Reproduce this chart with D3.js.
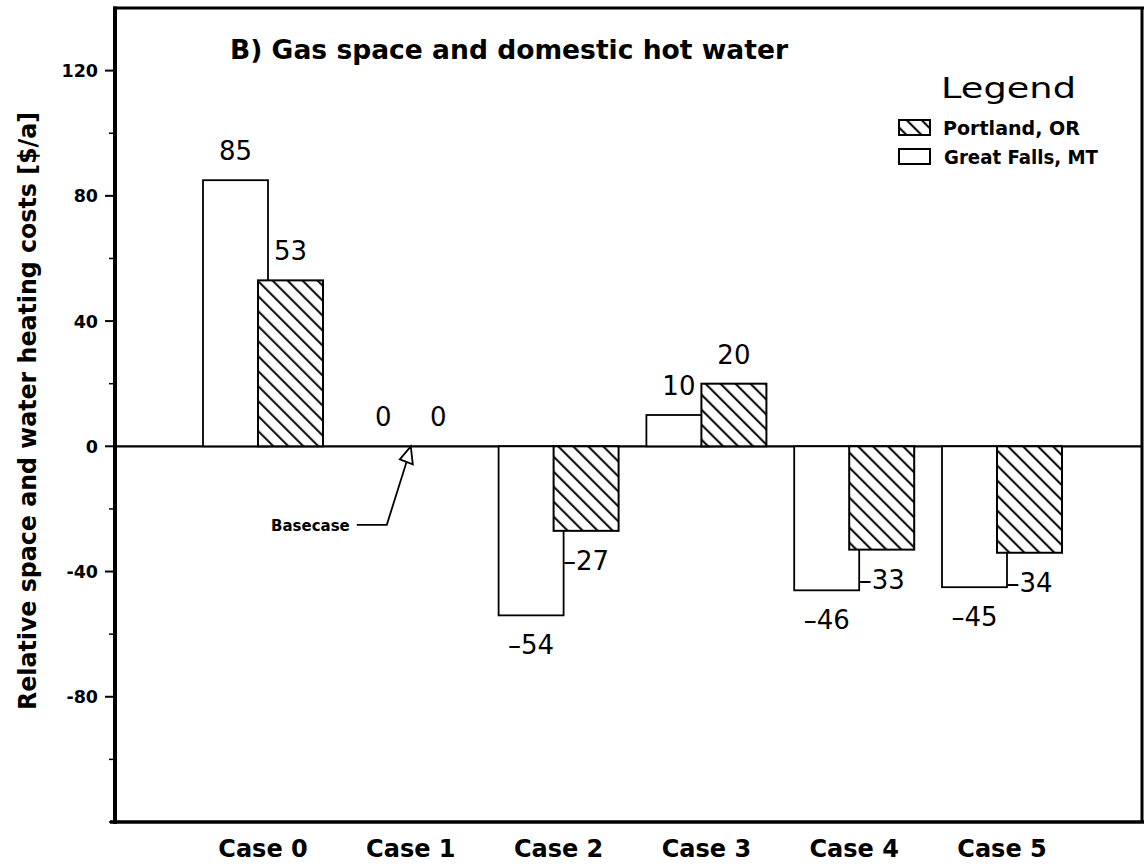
<!DOCTYPE html>
<html>
<head>
<meta charset="utf-8">
<script src="https://cdn.jsdelivr.net/npm/d3@7"></script>
<style>
  html, body { margin: 0; padding: 0; background: #fff; }
  svg { display: block; }
  text { font-family: "DejaVu Sans", sans-serif; fill: #000; }
</style>
</head>
<body>
<svg id="chart" width="1144" height="867"></svg>
<script>
// ---- data ----
const cases = ["Case 0", "Case 1", "Case 2", "Case 3", "Case 4", "Case 5"];
const greatFalls = [85, 0, -54, 10, -46, -45];
const portland = [53, 0, -27, 20, -33, -34];
const yTickValues = [120, 80, 40, 0, -40, -80];
const yMinorTicks = [100, 60, 20, -20, -60, -100, -120];
const yTickLabels = ["120", "80", "40", "0", "-40", "-80"];
const seriesNames = ["Portland, OR", "Great Falls, MT"];
const titleText = "B) Gas space and domestic hot water";
const yTitleText = "Relative space and water heating costs [$/a]";
const legendTitle = "Legend";
const annotationText = "Basecase";

// ---- layout ----
const W = 1144, H = 867;
const plot = { left: 115, right: 1142, top: 8, bottom: 822 };
const svg = d3.select("#chart");

const y = d3.scaleLinear().domain([-120, 140]).range([plot.bottom, plot.top]);
const step = 147.8;
const firstCenter = 263;
const x = d3.scaleBand()
  .domain(cases)
  .range([firstCenter - step / 2, firstCenter - step / 2 + step * cases.length])
  .padding(0);
const barW = 65, barOffset = 55; // GF bar left = center-60, Portland left = center-5
const center = c => x(c) + x.bandwidth() / 2;

// hatch pattern
const defs = svg.append("defs");
const pat = defs.append("pattern")
  .attr("id", "hatch")
  .attr("patternUnits", "userSpaceOnUse")
  .attr("width", 10.6).attr("height", 10.6)
  .attr("patternTransform", "rotate(-45)");
pat.append("rect").attr("width", 10.6).attr("height", 10.6).attr("fill", "#fff");
pat.append("line").attr("x1", 5).attr("y1", 0).attr("x2", 5).attr("y2", 10.6)
  .attr("stroke", "#000").attr("stroke-width", 2);

// zero line
svg.append("line")
  .attr("x1", plot.left).attr("x2", plot.right)
  .attr("y1", y(0)).attr("y2", y(0))
  .attr("stroke", "#000").attr("stroke-width", 2.2);

// bars: Great Falls (white) then Portland (hatched, on top)
const gfBars = svg.append("g");
cases.forEach((c, i) => {
  const v = greatFalls[i];
  if (v === 0) return;
  gfBars.append("rect")
    .attr("x", center(c) - 60)
    .attr("y", Math.min(y(v), y(0)))
    .attr("width", barW)
    .attr("height", Math.abs(y(v) - y(0)))
    .attr("fill", "#fff").attr("stroke", "#000").attr("stroke-width", 1.8);
});
const poBars = svg.append("g");
cases.forEach((c, i) => {
  const v = portland[i];
  if (v === 0) return;
  poBars.append("rect")
    .attr("x", center(c) - 60 + barOffset)
    .attr("y", Math.min(y(v), y(0)))
    .attr("width", barW)
    .attr("height", Math.abs(y(v) - y(0)))
    .attr("fill", "url(#hatch)").attr("stroke", "#000").attr("stroke-width", 2);
});

// value labels
const fmt = v => (v < 0 ? "\u2013" + Math.abs(v) : String(v));
function valueLabel(cx, v) {
  const by = v >= 0 ? y(v) - 20 : y(v) + 39;
  svg.append("text")
    .attr("x", cx).attr("y", by)
    .attr("text-anchor", "middle")
    .style("font-size", "26px")
    .text(fmt(v));
}
cases.forEach((c, i) => {
  valueLabel(center(c) - 60 + barW / 2, greatFalls[i]);
  valueLabel(center(c) - 60 + barOffset + barW / 2, portland[i]);
});

// frame
const frame = svg.append("g").attr("stroke", "#000").attr("fill", "none");
frame.append("line").attr("x1", plot.left).attr("x2", plot.left).attr("y1", plot.top - 1.5).attr("y2", plot.bottom + 2).attr("stroke-width", 4);
frame.append("line").attr("x1", plot.left - 2).attr("x2", W).attr("y1", plot.top).attr("y2", plot.top).attr("stroke-width", 3);
frame.append("line").attr("x1", plot.left - 5).attr("x2", W).attr("y1", plot.bottom).attr("y2", plot.bottom).attr("stroke-width", 3.5);
frame.append("line").attr("x1", plot.right).attr("x2", plot.right).attr("y1", plot.top).attr("y2", plot.bottom).attr("stroke-width", 3);

// y axis ticks
const yAxis = svg.append("g");
yTickValues.forEach((v, i) => {
  yAxis.append("line").attr("x1", plot.left - 10).attr("x2", plot.left)
    .attr("y1", y(v)).attr("y2", y(v)).attr("stroke", "#000").attr("stroke-width", 2);
  yAxis.append("text")
    .attr("x", 98).attr("y", y(v) + 6.5)
    .attr("text-anchor", "end")
    .style("font-size", "17.5px").style("font-weight", "bold")
    .text(yTickLabels[i]);
});
yMinorTicks.forEach(v => {
  yAxis.append("line").attr("x1", plot.left - 6).attr("x2", plot.left)
    .attr("y1", y(v)).attr("y2", y(v)).attr("stroke", "#000").attr("stroke-width", 1.5);
});

// y title
svg.append("text")
  .attr("transform", `translate(36, ${(710 + 112) / 2}) rotate(-90)`)
  .attr("text-anchor", "middle")
  .attr("textLength", 598).attr("lengthAdjust", "spacingAndGlyphs")
  .style("font-size", "24px").style("font-weight", "bold")
  .text(yTitleText);

// x category labels
cases.forEach(c => {
  svg.append("text")
    .attr("x", center(c)).attr("y", 857)
    .attr("text-anchor", "middle")
    .style("font-size", "24px").style("font-weight", "bold")
    .text(c);
});

// title
svg.append("text")
  .attr("x", 230).attr("y", 59)
  .attr("textLength", 558).attr("lengthAdjust", "spacingAndGlyphs")
  .style("font-size", "26.5px").style("font-weight", "bold")
  .text(titleText);

// legend
svg.append("text")
  .attr("x", 941).attr("y", 98)
  .attr("textLength", 135).attr("lengthAdjust", "spacingAndGlyphs")
  .style("font-size", "28px")
  .text(legendTitle);
const lg = svg.append("g");
lg.append("rect").attr("x", 899).attr("y", 120).attr("width", 31).attr("height", 15)
  .attr("fill", "url(#hatch)").attr("stroke", "#000").attr("stroke-width", 2);
lg.append("text").attr("x", 943).attr("y", 135)
  .attr("textLength", 137).attr("lengthAdjust", "spacingAndGlyphs")
  .style("font-size", "20px").style("font-weight", "bold").text(seriesNames[0]);
lg.append("rect").attr("x", 899).attr("y", 149).attr("width", 31).attr("height", 15)
  .attr("fill", "#fff").attr("stroke", "#000").attr("stroke-width", 2);
lg.append("text").attr("x", 944).attr("y", 164)
  .attr("textLength", 154).attr("lengthAdjust", "spacingAndGlyphs")
  .style("font-size", "20px").style("font-weight", "bold").text(seriesNames[1]);

// basecase annotation (points at Case 1 on the zero line)
const tipX = center("Case 1"), tipY = y(0);
const ann = svg.append("g").attr("stroke", "#000").attr("fill", "none").attr("stroke-width", 1.8);
ann.append("path")
  .attr("d", `M${tipX - 54},${tipY + 78.5} L${tipX - 24},${tipY + 78.5} L${tipX - 4.5},${tipY + 16.5}`);
ann.append("path")
  .attr("d", `M${tipX},${tipY} L${tipX - 11},${tipY + 13} L${tipX + 2},${tipY + 18} Z`)
  .attr("fill", "#fff");
svg.append("text")
  .attr("x", tipX - 61).attr("y", tipY + 85)
  .attr("text-anchor", "end")
  .style("font-size", "15px").style("font-weight", "bold")
  .text(annotationText);
</script>
</body>
</html>
